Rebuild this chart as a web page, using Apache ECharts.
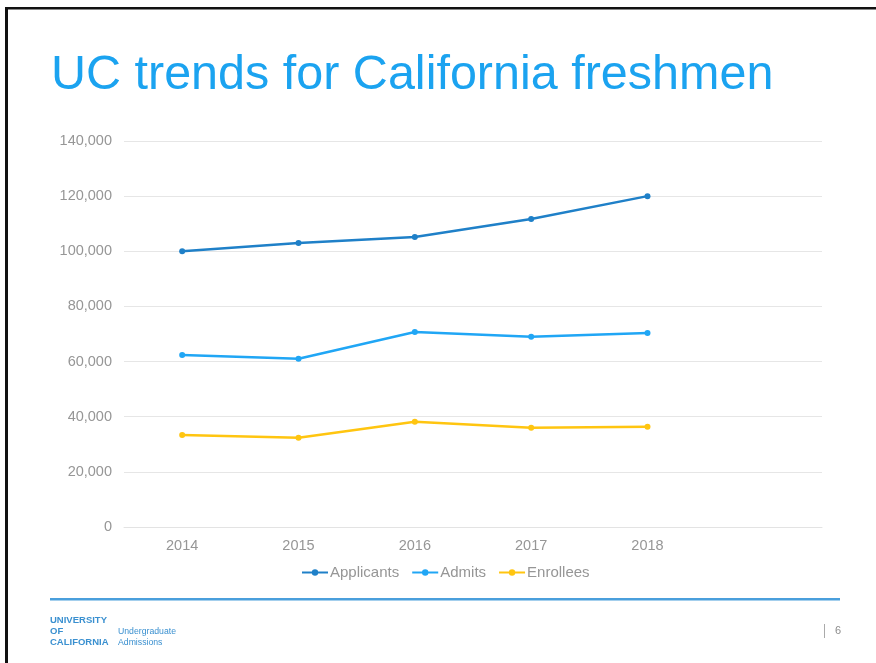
<!DOCTYPE html>
<html>
<head>
<meta charset="utf-8">
<script src="https://cdn.jsdelivr.net/npm/echarts@6/dist/echarts.min.js"></script>
<style>
html,body{margin:0;padding:0;background:#fff;}
#chart{width:876px;height:663px;}
</style>
</head>
<body>
<div id="chart"></div>
<script>
var years = ['2014', '2015', '2016', '2017', '2018', ''];
var yTicks = [0, 20000, 40000, 60000, 80000, 100000, 120000, 140000];
var applicants = [100000, 103000, 105200, 111700, 120000];
var admits = [62400, 61000, 70700, 69000, 70400];
var enrollees = [33400, 32400, 38200, 36000, 36400];

var chart = echarts.init(document.getElementById('chart'));
var font = 'Liberation Sans, Arial, sans-serif';
function mk(name, data, color) {
  return {
    name: name, type: 'line', data: data,
    symbol: 'circle', symbolSize: 6,
    lineStyle: { color: color, width: 2.5 },
    itemStyle: { color: color },
    animation: false
  };
}
chart.setOption({
  animation: false,
  title: {
    text: 'UC trends for California freshmen',
    left: 46, top: 46,
    textStyle: { color: '#1ba3f0', fontSize: 48.5, fontWeight: 'normal', fontFamily: font }
  },
  grid: { left: 124, right: 54, top: 141, bottom: 136 },
  xAxis: {
    type: 'category', data: years, boundaryGap: true,
    axisLine: { lineStyle: { color: '#e3e3e3' } },
    axisTick: { show: false },
    axisLabel: { color: '#969696', fontSize: 14.5, fontFamily: font, margin: 11 }
  },
  yAxis: {
    type: 'value', min: yTicks[0], max: yTicks[yTicks.length - 1], interval: 20000,
    axisLine: { show: false }, axisTick: { show: false },
    splitLine: { lineStyle: { color: '#e6e6e6' } },
    axisLabel: {
      color: '#969696', fontSize: 14.5, fontFamily: font, margin: 12,
      formatter: function (v) { return v.toLocaleString('en-US'); }
    }
  },
  legend: {
    bottom: 78, left: 296, itemGap: 12, itemWidth: 26, itemHeight: 8,
    textStyle: { color: '#969696', fontSize: 15, fontFamily: font, padding: [0, 0, 0, -3] },
    data: ['Applicants', 'Admits', 'Enrollees']
  },
  series: [
    mk('Applicants', applicants, '#1f80c8'),
    mk('Admits', admits, '#20a6f5'),
    mk('Enrollees', enrollees, '#ffc510')
  ],
  graphic: [
    { type: 'rect', shape: { x: 5, y: 7, width: 871, height: 2.5 }, style: { fill: '#111' }, silent: true },
    { type: 'rect', shape: { x: 5, y: 7, width: 3, height: 656 }, style: { fill: '#111' }, silent: true },
    { type: 'rect', shape: { x: 50, y: 598, width: 790, height: 2.5 }, style: { fill: '#4a9fdc' }, silent: true },
    { type: 'text', left: 50, top: 615, style: { text: 'UNIVERSITY\nOF\nCALIFORNIA', fill: '#3a90d0', font: 'bold 9.5px "Liberation Sans", Arial, sans-serif', lineHeight: 11 } },
    { type: 'text', left: 118, top: 626, style: { text: 'Undergraduate\nAdmissions', fill: '#3a90d0', font: '8.7px "Liberation Sans", Arial, sans-serif', lineHeight: 11 } },
    { type: 'rect', shape: { x: 824, y: 624, width: 1, height: 14 }, style: { fill: '#aaa' }, silent: true },
    { type: 'text', left: 835, top: 625, style: { text: '6', fill: '#8c8c8c', font: '11px "Liberation Sans", Arial, sans-serif' } }
  ]
});
</script>
</body>
</html>
